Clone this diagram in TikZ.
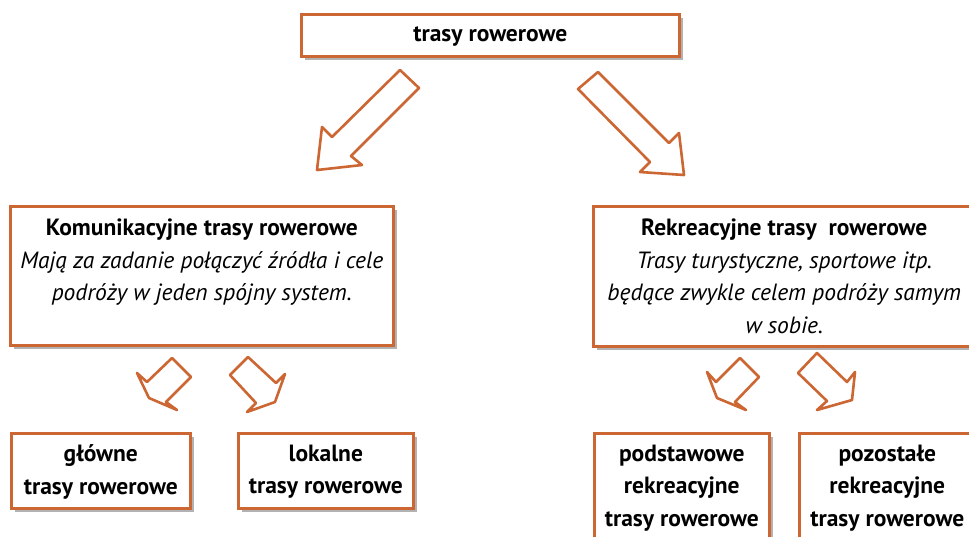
\documentclass[tikz,border=0pt]{standalone}
\usepackage{fontspec}
\setmainfont{PT Sans}
\usetikzlibrary{shadows}
\definecolor{myorange}{RGB}{204,102,51}
\definecolor{mygray}{RGB}{178,178,178}

\begin{document}
\begin{tikzpicture}[x=1pt, y=-1pt]
\tikzset{BoxStyle/.style =
    {draw=myorange, line width=2.6pt, fill=white, inner sep=0pt, anchor=north west,
     drop shadow={shadow xshift=4pt, shadow yshift=-4pt, fill=mygray, opacity=1}}
}
\tikzset{ArrowStyle/.style = {draw=myorange, line width=2.6pt, line join=round, fill=white}}
\tikzset{TextStyle/.style = {font=\fontsize{23.5}{32.5}\selectfont}}
\clip (0,0) rectangle (969,536);
\fill[white] (0,0) rectangle (969,536);

% boxes
\node[BoxStyle, TextStyle] (tr-top) at (300,13)
    {\parbox[c][42pt][t]{378pt}{\centering\vspace*{12.5pt}\textbf{trasy rowerowe}}};
\node[BoxStyle, TextStyle] (tr-kom) at (9,205)
    {\parbox[c][139pt][t]{383pt}{\centering\vspace*{12.5pt}\textbf{Komunikacyjne trasy rowerowe}\\
     \textit{Mają za zadanie połączyć źródła i cele}\\ \textit{podróży w jeden spójny system.}}};
\node[BoxStyle, TextStyle] (tr-rek) at (592,205)
    {\parbox[c][140pt][t]{382pt}{\centering\vspace*{12.5pt}\textbf{Rekreacyjne trasy\ \ rowerowe}\\
     \textit{Trasy turystyczne, sportowe itp.}\\ \textit{będące zwykle celem podróży samym}\\ \textit{w sobie.}}};
\foreach \x/\w/\h/\name/\txt in {10/179/75/glo/główne, 237/175/75/lok/lokalne,
    593/175/120/pod/{podstawowe\\ rekreacyjne}, 798/176/120/poz/{pozostałe\\ rekreacyjne}}
    \node[BoxStyle, TextStyle] (tr-\name) at (\x,432)
        {\parbox[c][\h pt][t]{\w pt}{\centering\vspace*{11.5pt}\textbf{\txt}\\ \textbf{trasy rowerowe}}};

% block arrows
\draw[ArrowStyle] (400,70) -- (419,88) -- (351,156) -- (362,165) -- (317,170)
    -- (322,127) -- (332,137) -- cycle;
\draw[ArrowStyle] (598,72) -- (578,89) -- (650,162) -- (640,172) -- (684,175)
    -- (679,133) -- (669,143) -- cycle;
\draw[ArrowStyle] (172,358) -- (191,377) -- (166,402) -- (177,410) -- (149,398)
    -- (137,373) -- (147,382) -- cycle;
\draw[ArrowStyle] (248,357) -- (230,375) -- (256,403) -- (247,412) -- (275,402)
    -- (285,374) -- (276,383) -- cycle;
\draw[ArrowStyle] (740,358) -- (759,377) -- (735,402) -- (746,410) -- (717,398)
    -- (707,372) -- (716,382) -- cycle;
\draw[ArrowStyle] (817,353) -- (798,373) -- (827,401) -- (817,410) -- (852,400)
    -- (855,372) -- (847,382) -- cycle;
\end{tikzpicture}
\end{document}
